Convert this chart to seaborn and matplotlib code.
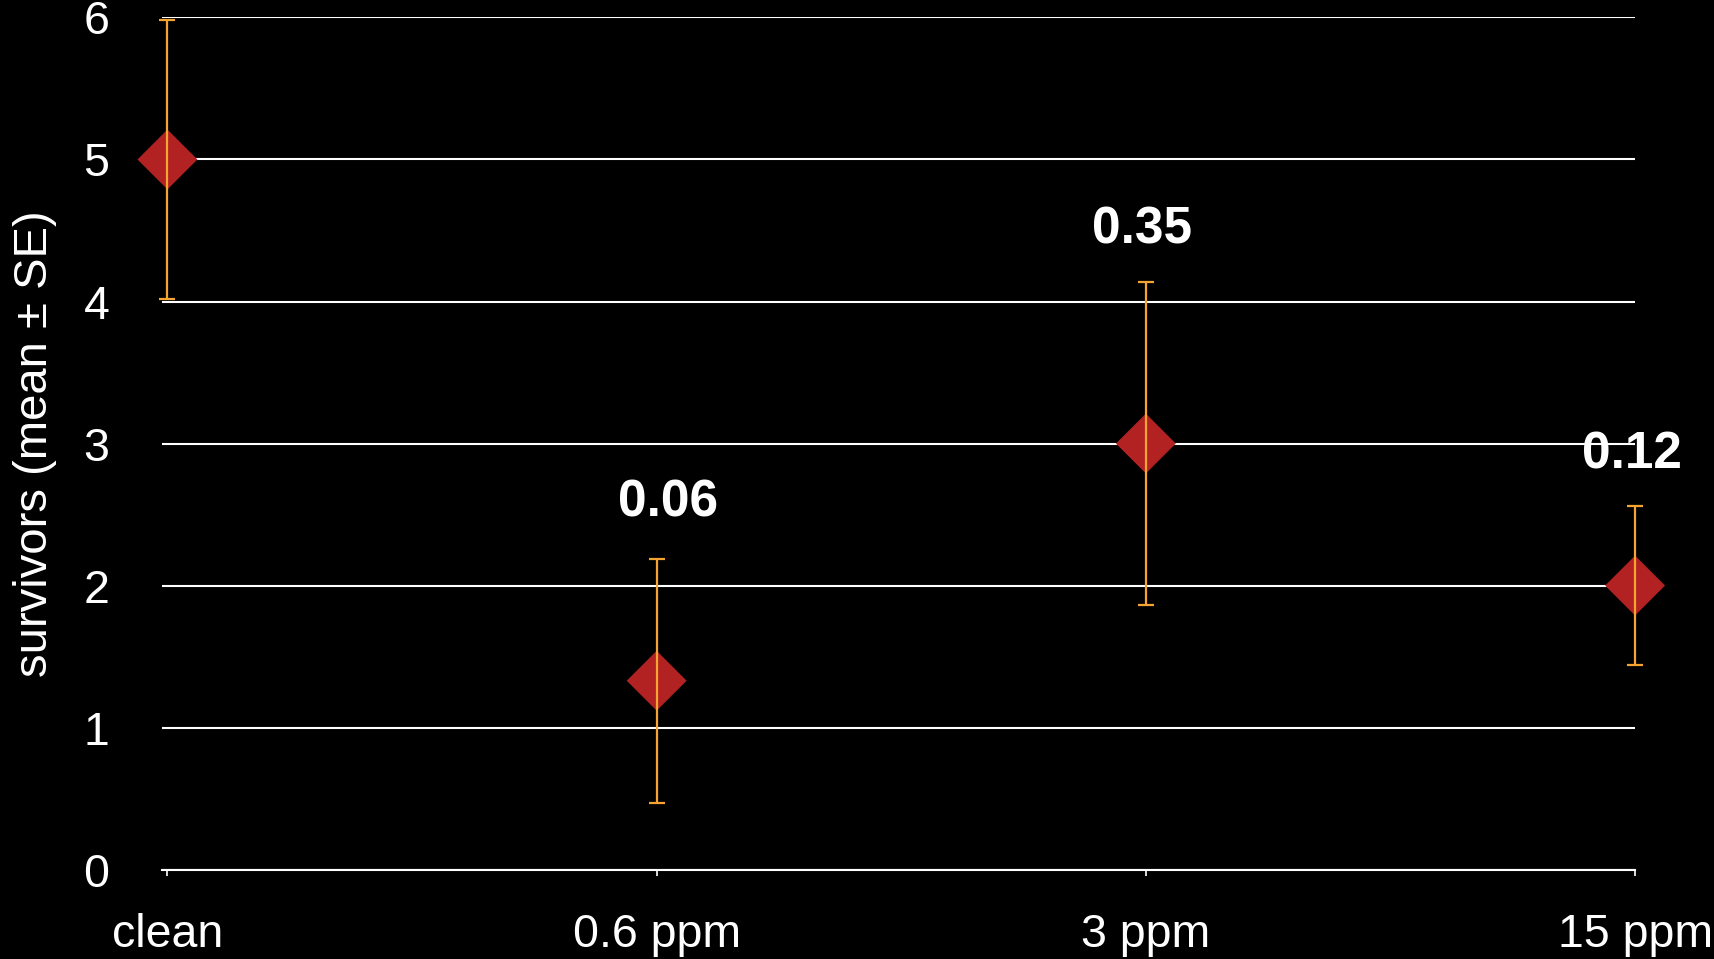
import matplotlib
matplotlib.use("Agg")
import matplotlib.pyplot as plt
import seaborn as sns
import pandas as pd

# Survivors per treatment: mean and standard error
treatments = ["clean", "0.6 ppm", "3 ppm", "15 ppm"]
mean_survivors = [5.0, 1.33, 3.0, 2.0]
se_survivors = [0.98, 0.86, 1.14, 0.56]
# p-values against the clean treatment (none for clean itself)
p_labels = [None, "0.06", "0.35", "0.12"]
y_ticks = [0, 1, 2, 3, 4, 5, 6]

# hand placement of the p-value labels above each error bar (points)
label_nudge = [(0, 0), (8, 3), (-3, 0), (-2, 0)]

df = pd.DataFrame({"treatment": treatments, "mean": mean_survivors, "se": se_survivors})

sns.set_theme(style="dark")
plt.rcParams["font.family"] = ["Liberation Sans", "DejaVu Sans"]

fig = plt.figure(figsize=(17.15, 9.59), dpi=100, facecolor="black")
ax = fig.add_axes([0.0945, 0.0932, 0.8589, 0.8886])
ax.set_facecolor("black")

sns.scatterplot(data=df, x="treatment", y="mean", marker="D", s=930,
                color="#B22222", edgecolor="none", linewidth=0, ax=ax, zorder=3,
                clip_on=False)

eb = ax.errorbar(range(len(treatments)), df["mean"], yerr=df["se"], fmt="none",
                 ecolor="#F5A431", elinewidth=1.6, capsize=5.8, capthick=1.6, zorder=4)
for art in eb.lines[1]:
    art.set_clip_on(False)
for art in eb.lines[2]:
    art.set_clip_on(False)

for i, lab in enumerate(p_labels):
    if lab is None:
        continue
    top = mean_survivors[i] + se_survivors[i]
    ax.annotate(lab, xy=(i, top), xytext=(label_nudge[i][0], 37 + label_nudge[i][1]),
                textcoords="offset points", ha="center", va="center",
                color="white", fontsize=37, fontweight="bold",
                annotation_clip=False, zorder=5)

ax.set_ylim(0, 6)
ax.set_xlim(-0.011, 3.0)
ax.set_yticks(y_ticks)
ax.yaxis.grid(True, color="white", linewidth=1.5)
ax.xaxis.grid(False)
ax.set_axisbelow(True)
for side in ["left", "right", "top"]:
    ax.spines[side].set_visible(False)
ax.spines["bottom"].set_color("white")
ax.spines["bottom"].set_linewidth(1.5)

ax.tick_params(axis="y", length=0, pad=38, labelsize=33.5, labelcolor="white")
ax.tick_params(axis="x", length=4.5, width=1.2, color="white", direction="out",
               pad=27, labelsize=33.5, labelcolor="white", bottom=True)
ax.set_xlabel("")
ax.set_ylabel("survivors (mean ± SE)", color="white", fontsize=34)
ax.yaxis.set_label_coords(-0.071, 0.5)

fig.savefig("out.png", dpi=100, facecolor="black")
